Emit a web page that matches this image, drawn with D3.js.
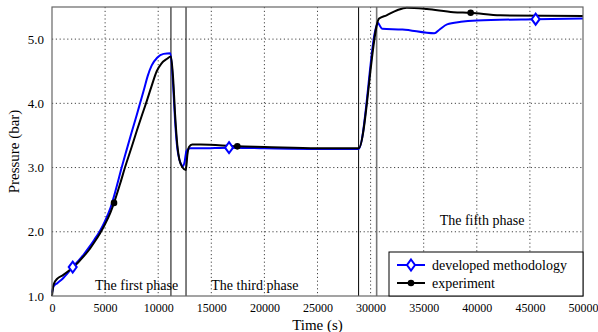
<!DOCTYPE html>
<html>
<head>
<meta charset="utf-8">
<script src="https://cdn.jsdelivr.net/npm/d3@7"></script>
<style>
body{margin:0;background:#fff;}
text{font-family:"Liberation Serif","Times New Roman",serif;fill:#000;}
</style>
</head>
<body>
<svg id="chart" width="598" height="332"></svg>
<script>
// time (s) / pressure (bar)
var devT = [0,150,500,1000,1950,2500,3000,3500,4000,4500,5000,5500,6000,6560,7000,7500,8000,8290,8700,9000,9390,9900,10500,11150,11400,11600,11800,12000,12200,12340,12500,12650,13000,14000,16670,20000,25000,28870,30700,30900,31100,33000,36000,36500,37200,38500,40000,45540,50000];
var devP = [1.05,1.15,1.2,1.27,1.45,1.55,1.65,1.76,1.88,2.01,2.17,2.37,2.65,3.0,3.26,3.55,3.83,4.0,4.24,4.42,4.59,4.71,4.77,4.78,4.3,3.7,3.3,3.12,3.04,3.02,3.1,3.25,3.3,3.3,3.31,3.3,3.29,3.29,5.25,5.2,5.16,5.15,5.09,5.15,5.23,5.27,5.29,5.31,5.32];
var expT = [0,150,500,1000,2000,2500,3000,3500,4000,4500,5000,5500,5840,6400,6870,7500,8000,8500,8850,9400,9860,10300,10800,11200,11400,11600,11800,12000,12300,12600,12750,12900,13200,14000,17450,20000,25000,28870,30800,31500,32500,33400,35300,37800,39420,42200,50000];
var expP = [1.0,1.18,1.27,1.32,1.45,1.53,1.62,1.72,1.84,1.97,2.12,2.3,2.45,2.74,3.0,3.32,3.58,3.83,4.0,4.28,4.5,4.62,4.69,4.73,4.4,3.8,3.35,3.12,3.0,2.96,3.2,3.32,3.36,3.36,3.33,3.32,3.3,3.3,5.32,5.37,5.45,5.49,5.47,5.42,5.41,5.37,5.36];
var devMarkT = [1950,16670,45540];
var devMarkP = [1.45,3.31,5.31];
var expMarkT = [5840,17450,39420];
var expMarkP = [2.45,3.33,5.41];
var phaseLines = [11200,12620,28870,30570];
var phaseNames = ["The first phase","The third phase","The fifth phase"];
var phaseNameT = [4050,15000,36500];
var phaseNameP = [1.09,1.09,2.1];
var xTicks = [0,5000,10000,15000,20000,25000,30000,35000,40000,45000,50000];
var yTicks = [1.0,2.0,3.0,4.0,5.0];
var seriesNames = ["developed methodology","experiment"];

var svg = d3.select("#chart");
var L = 52, R = 583, T = 7, B = 296;
var x = d3.scaleLinear().domain([0,50000]).range([L,R]);
var y = d3.scaleLinear().domain([1,5.5]).range([B,T]);

// grid
svg.append("g").selectAll("line").data(xTicks.slice(1,-1)).enter().append("line")
  .attr("x1",function(d){return x(d);}).attr("x2",function(d){return x(d);})
  .attr("y1",T).attr("y2",B)
  .attr("stroke","#444").attr("stroke-width",1).attr("stroke-dasharray","1.2,2.6");
svg.append("g").selectAll("line").data(yTicks.slice(1)).enter().append("line")
  .attr("x1",L).attr("x2",R)
  .attr("y1",function(d){return y(d);}).attr("y2",function(d){return y(d);})
  .attr("stroke","#444").attr("stroke-width",1).attr("stroke-dasharray","1.2,2.6");

// phase boundaries
svg.append("g").selectAll("line").data(phaseLines).enter().append("line")
  .attr("x1",function(d){return x(d);}).attr("x2",function(d){return x(d);})
  .attr("y1",T).attr("y2",B)
  .attr("stroke",function(d,i){return i==3 ? "#777" : "#000";})
  .attr("stroke-width",function(d,i){return i==3 ? 1.6 : 1;});

// axes
var xAxis = svg.append("g").attr("transform","translate(0,"+B+")")
  .call(d3.axisBottom(x).tickValues(xTicks).tickSize(0).tickPadding(7).tickFormat(d3.format("d")));
var yAxis = svg.append("g").attr("transform","translate("+L+",0)")
  .call(d3.axisLeft(y).tickValues(yTicks).tickSize(0).tickPadding(8).tickFormat(d3.format(".1f")));
[xAxis,yAxis].forEach(function(a){
  a.select(".domain").remove();
  a.attr("font-family","Liberation Serif");
});
xAxis.selectAll("text").style("font-size","12px");
yAxis.selectAll("text").style("font-size","13px");

// curves
var line = d3.line().x(function(d){return x(d[0]);}).y(function(d){return y(d[1]);}).curve(d3.curveMonotoneX);
var devData = d3.zip(devT,devP), expData = d3.zip(expT,expP);
svg.append("path").datum(devData).attr("d",line).attr("fill","none").attr("stroke","#0000ff").attr("stroke-width",2);
svg.append("path").datum(expData).attr("d",line).attr("fill","none").attr("stroke","#000").attr("stroke-width",2);

// markers
var diamond = "M0,-5.5L4,0L0,5.5L-4,0Z";
svg.append("g").selectAll("path").data(d3.zip(devMarkT,devMarkP)).enter().append("path")
  .attr("d",diamond)
  .attr("transform",function(d){return "translate("+x(d[0])+","+y(d[1])+")";})
  .attr("fill","#fff").attr("stroke","#0000ff").attr("stroke-width",2);
svg.append("g").selectAll("circle").data(d3.zip(expMarkT,expMarkP)).enter().append("circle")
  .attr("cx",function(d){return x(d[0]);}).attr("cy",function(d){return y(d[1]);})
  .attr("r",3.3).attr("fill","#000");

// phase names
svg.append("g").selectAll("text").data(phaseNames).enter().append("text")
  .attr("x",function(d,i){return x(phaseNameT[i]);})
  .attr("y",function(d,i){return y(phaseNameP[i]);})
  .style("font-size","14px").text(function(d){return d;});

// frame
svg.append("rect").attr("x",L).attr("y",T).attr("width",R-L).attr("height",B-T)
  .attr("fill","none").attr("stroke","#666").attr("stroke-width",1.2);

// legend
var lg = svg.append("g");
lg.append("rect").attr("x",389).attr("y",252).attr("width",R-389).attr("height",B-252)
  .attr("fill","#fff").attr("stroke","#000").attr("stroke-width",1);
var lgY = [265,283];
seriesNames.forEach(function(name,i){
  var col = i==0 ? "#0000ff" : "#000";
  lg.append("line").attr("x1",397).attr("x2",425).attr("y1",lgY[i]).attr("y2",lgY[i])
    .attr("stroke",col).attr("stroke-width",2);
  if(i==0){
    lg.append("path").attr("d",diamond)
      .attr("transform","translate(411,"+lgY[i]+")")
      .attr("fill","#fff").attr("stroke",col).attr("stroke-width",2);
  } else {
    lg.append("circle").attr("cx",411).attr("cy",lgY[i]).attr("r",3.3).attr("fill",col);
  }
  lg.append("text").attr("x",432).attr("y",lgY[i]+5).style("font-size","14px").text(name);
});

// axis titles
svg.append("text").attr("x",(L+R)/2).attr("y",330).attr("text-anchor","middle")
  .style("font-size","15px").text("Time (s)");
svg.append("text").attr("transform","translate(19,"+((T+B)/2)+") rotate(-90)")
  .attr("text-anchor","middle").style("font-size","15px").text("Pressure (bar)");
</script>
</body>
</html>
